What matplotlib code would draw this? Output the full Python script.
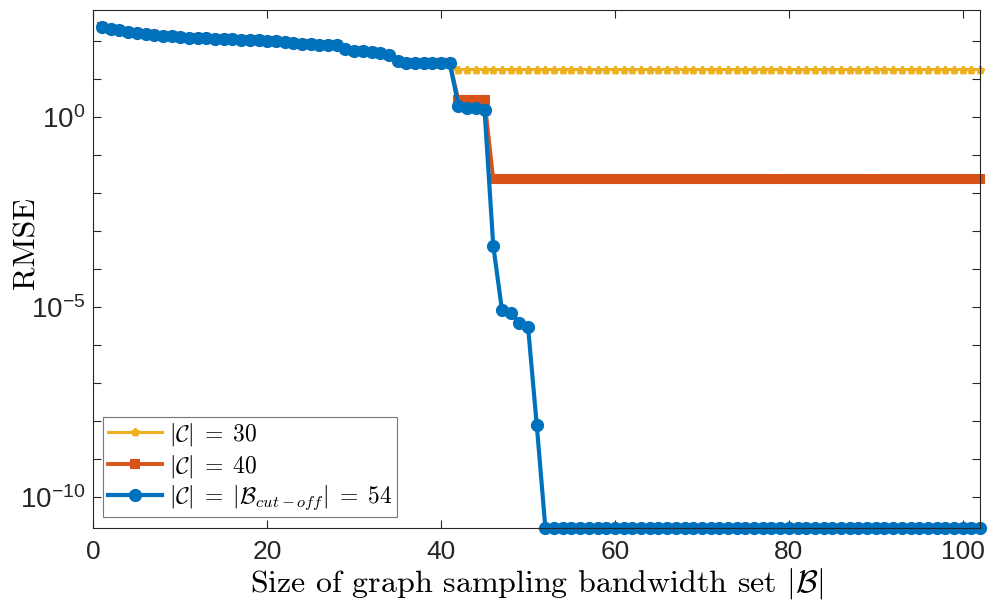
import numpy as np
import matplotlib
matplotlib.use("Agg")
import matplotlib.pyplot as plt
from matplotlib.ticker import FixedLocator, FuncFormatter

# 数据
x = np.arange(1, 103)

# 前 41 个点三条曲线重合
shared = [240, 214, 195, 178, 166, 155, 148, 141, 138, 132,
          126, 123, 120, 117, 115, 115, 112, 110, 107, 105,
          100, 95.5, 89, 83, 83, 81, 81, 79, 62, 57.5,
          55, 52.5, 49, 43.6, 30.2, 26.9, 26.3, 26.3, 26.3, 26.3,
          26.3]
tail_c30 = [18.2] * 61
tail_c40 = [2.8, 2.8, 2.8, 2.8] + [0.0234] * 57
tail_c54 = [2.04, 1.78, 1.74, 1.55, 4.2e-4, 8.5e-6, 7.2e-6, 3.9e-6, 3.1e-6, 8.1e-9] + [1.5e-11] * 51

rmse_c30 = shared + tail_c30
rmse_c40 = shared + tail_c40
rmse_c54 = shared + tail_c54

labels = [r'$|\mathcal{C}|\;=\;30$', r'$|\mathcal{C}|\;=\;40$',
          r'$|\mathcal{C}|\;=\;|\mathcal{B}_{cut-off}|\;=\;54$']

plt.rcParams['mathtext.fontset'] = 'cm'
plt.rcParams['font.family'] = ['Liberation Sans', 'DejaVu Sans']

fig = plt.figure(figsize=(9.93, 6.13), dpi=100)
ax = fig.add_axes([0.094, 0.138, 0.893, 0.846])

ax.plot(x, rmse_c30, color='#EDB120', lw=2.2, marker='*', ms=6, mew=2, label=labels[0], clip_on=False)
ax.plot(x, rmse_c40, color='#D95319', lw=2.8, marker='s', ms=6, mew=1.5, label=labels[1], clip_on=False)
ax.plot(x, rmse_c54, color='#0072BD', lw=3, marker='o', ms=8, mew=1.5, label=labels[2], clip_on=False)

ax.set_yscale('log')
ax.set_xlim(0, 102)
ax.set_ylim(1.5e-11, 680)
ax.xaxis.set_major_locator(FixedLocator([0, 20, 40, 60, 80, 100]))
ax.yaxis.set_major_locator(FixedLocator([10.0**k for k in range(-10, 3)]))
ax.yaxis.set_minor_locator(FixedLocator([]))

def yfmt(v, pos):
    k = int(round(np.log10(v)))
    return r'$\mathdefault{10^{%d}}$' % k if k % 5 == 0 else ''

ax.yaxis.set_major_formatter(FuncFormatter(yfmt))
ax.tick_params(which='both', direction='in', top=True, right=True, length=6,
               width=0.8, color='#262626', labelsize=19, labelcolor='#262626')
ax.tick_params(axis='x', pad=8)
ax.tick_params(axis='y', labelsize=20, pad=6)
for s in ax.spines.values():
    s.set_color('#262626')
    s.set_linewidth(0.8)

ax.set_xlabel(r'Size of graph sampling bandwidth set $|\mathcal{B}|$',
              fontsize=23, family='cmr10', labelpad=2)
ax.set_ylabel('RMSE', fontsize=23, family='cmr10')
ax.yaxis.set_label_coords(-0.06, 0.55)

leg = ax.legend(loc='lower left', bbox_to_anchor=(0.011, 0.022), fontsize=17,
                fancybox=False, framealpha=1, edgecolor='#777777',
                handlelength=2.3, borderpad=0.2, labelspacing=0.18,
                handletextpad=0.3, borderaxespad=0)
leg.get_frame().set_linewidth(0.8)

fig.savefig('out.png', dpi=100)
